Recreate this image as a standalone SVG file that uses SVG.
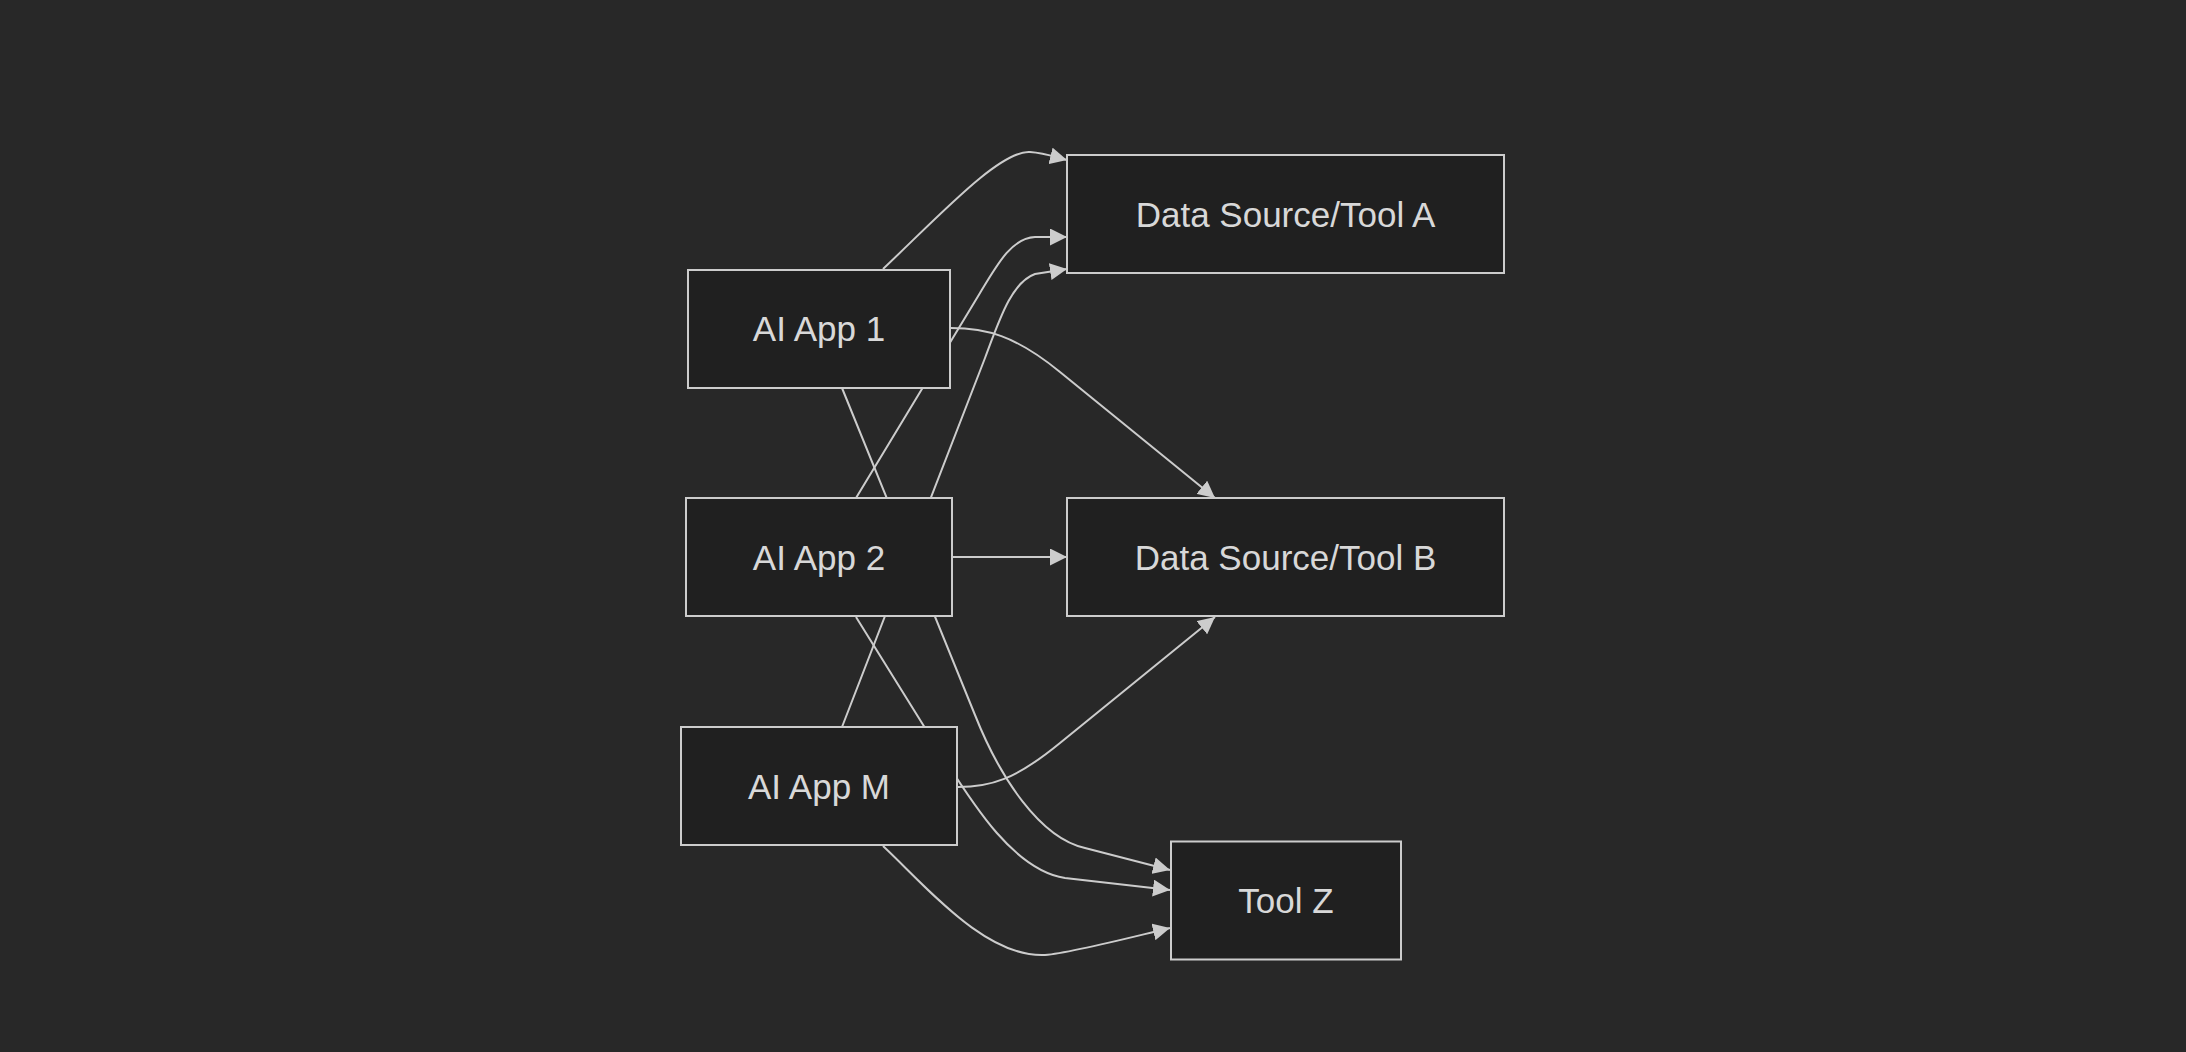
<svg xmlns="http://www.w3.org/2000/svg" width="2186" height="1052" viewBox="0 0 2186 1052">
<style>
.node rect{fill:#202020;stroke:#cccccc;stroke-width:2}
.node text{font-family:"Liberation Sans",Arial,sans-serif;font-size:35px;fill:#d8d8d8;text-anchor:middle}
.edge{fill:none;stroke:#cccccc;stroke-width:2}
</style>
<defs>
<marker id="arrow" markerUnits="userSpaceOnUse" viewBox="0 0 10 10" refX="10" refY="5" markerWidth="17" markerHeight="17" orient="auto">
<path d="M0,0 L10,5 L0,10 z" fill="#cccccc"/>
</marker>
</defs>
<rect width="2186" height="1052" fill="#282828"/>
<g id="connectors">
<path class="edge" marker-end="url(#arrow)" d="M883,269 C940,215 1000,150 1030,152 C1045,153 1055,157 1067,160"/>
<path class="edge" marker-end="url(#arrow)" d="M856,498 L980,293 C998,263 1012,238 1035,237 L1067,237"/>
<path class="edge" marker-end="url(#arrow)" d="M842,727 L985,358 C1000,318 1012,282 1035,274 L1067,269"/>
<path class="edge" marker-end="url(#arrow)" d="M951,328 C985,328 1015,335 1060,372 L1215,498"/>
<path class="edge" marker-end="url(#arrow)" d="M953,557 L1067,557"/>
<path class="edge" marker-end="url(#arrow)" d="M958,787 C990,787 1015,780 1060,743 L1215,617"/>
<path class="edge" marker-end="url(#arrow)" d="M842,388 L975,715 C1000,778 1040,838 1085,848 L1170,870"/>
<path class="edge" marker-end="url(#arrow)" d="M856,617 L940,752 C975,808 1015,870 1065,878 L1170,890"/>
<path class="edge" marker-end="url(#arrow)" d="M883,846 C925,885 985,958 1045,955 C1070,953 1120,940 1170,928"/>
</g>
<g id="app1" class="node"><rect x="688" y="270" width="262" height="118"/><text x="819" y="341">AI App 1</text></g>
<g id="app2" class="node"><rect x="686" y="498" width="266" height="118"/><text x="819" y="569.5">AI App 2</text></g>
<g id="appM" class="node"><rect x="681" y="727" width="276" height="118"/><text x="819" y="798.5">AI App M</text></g>
<g id="toolA" class="node"><rect x="1067" y="155" width="437" height="118"/><text x="1285.5" y="226.5">Data Source/Tool A</text></g>
<g id="toolB" class="node"><rect x="1067" y="498" width="437" height="118"/><text x="1285.5" y="569.5">Data Source/Tool B</text></g>
<g id="toolZ" class="node"><rect x="1171" y="841.5" width="230" height="118"/><text x="1286" y="913">Tool Z</text></g>
</svg>
